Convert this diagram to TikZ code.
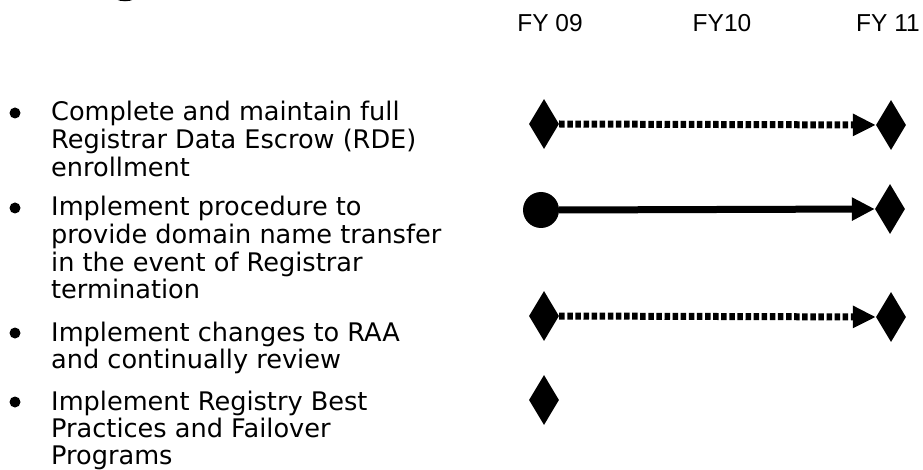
\documentclass[tikz,border=0pt]{standalone}
\usepackage{fontspec}
\setmainfont{DejaVu Sans}
\newfontfamily\arialf{Liberation Sans}
\usetikzlibrary{shapes.geometric,arrows.meta}
\tikzset{
  yrlabel/.style={font=\arialf\fontsize{24.5}{28}\selectfont, anchor=center, inner sep=0},
  itemtext/.style={font=\fontsize{25.6}{27}\selectfont, anchor=base west, inner sep=0},
  bulletdot/.style={circle, fill=black, inner sep=0, minimum size=11pt},
  mile/.style={diamond, fill=black, inner sep=0, minimum width=30pt, minimum height=50pt},
  startdot/.style={circle, fill=black, inner sep=0, minimum size=36pt},
  dotline/.style={line width=7pt, dash pattern=on 5.5pt off 2.6pt, -{Triangle[length=23pt,width=21pt]}},
  solidline/.style={line width=7pt, -{Triangle[length=23pt,width=22pt]}}
}
\newcommand\itemlines[1]{\begin{tabular}[t]{@{}l@{}}#1\end{tabular}}
\begin{document}
\begin{tikzpicture}[x=1pt,y=-1pt]
\useasboundingbox (0,0) rectangle (923,470);
\begin{scope}
\clip (0,0) rectangle (923,470);
\draw[line width=2.5pt] (125,-6) ellipse [x radius=12, y radius=6];
\end{scope}
% year labels
\node[yrlabel] (fy09) at (550,23) {FY 09};
\node[yrlabel] (fy10) at (722,23) {FY10};
\node[yrlabel] (fy11) at (888,23) {FY 11};
% items
\node[bulletdot] (b1) at (15,113) {};
\node[itemtext] (t1) at (51,121) {\itemlines{Complete and maintain full\\Registrar Data Escrow (RDE)\\enrollment}};
\node[bulletdot] (b2) at (15,208) {};
\node[itemtext] (t2) at (51,216) {\itemlines{Implement procedure to\\provide domain name transfer\\in the event of Registrar\\termination}};
\node[bulletdot] (b3) at (15,333) {};
\node[itemtext] (t3) at (51,341) {\itemlines{Implement changes to RAA\\and continually review}};
\node[bulletdot] (b4) at (15,402) {};
\node[itemtext] (t4) at (51,410) {\itemlines{Implement Registry Best\\Practices and Failover\\Programs}};
% timeline row 1
\node[mile] (r1a) at (544,124) {};
\node[mile] (r1b) at (891,125) {};
\draw[dotline] (r1a.east) -- (r1b.west);
% row 2
\node[startdot] (r2a) at (541,210) {};
\node[mile] (r2b) at (890,209) {};
\draw[solidline] (r2a.east) -- (r2b.west);
% row 3
\node[mile] (r3a) at (544,316) {};
\node[mile] (r3b) at (891,317) {};
\draw[dotline] (r3a.east) -- (r3b.west);
% row 4
\node[mile] (r4a) at (544,400) {};
\end{tikzpicture}
\end{document}
